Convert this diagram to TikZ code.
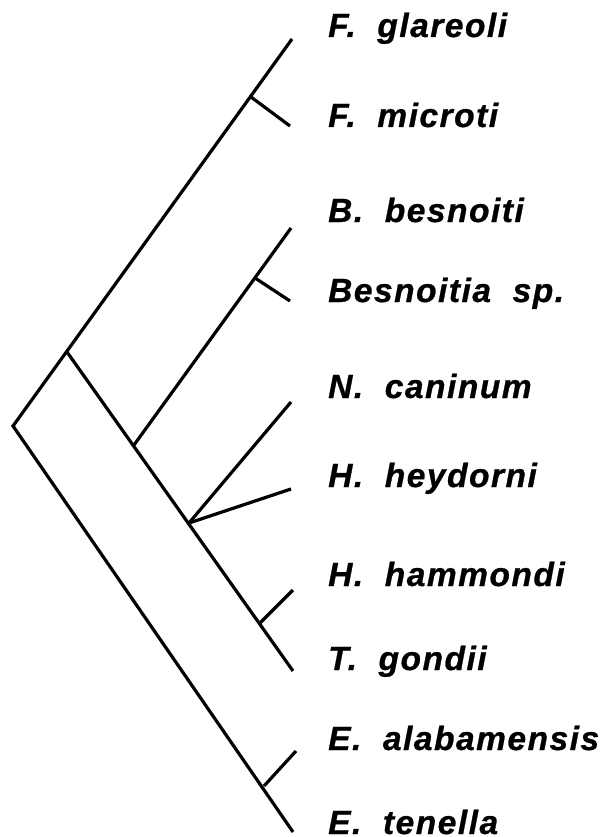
\documentclass[tikz,border=0pt]{standalone}
\usepackage{fontspec}
\setmainfont{Liberation Sans}
\begin{document}
\begin{tikzpicture}[x=1pt,y=-1pt,
  branch/.style={line width=3.2pt,line join=miter,line cap=butt},
  taxon/.style={anchor=base west,inner sep=0pt,font=\fontsize{33.5}{36}\selectfont\bfseries\itshape\addfontfeature{LetterSpace=4.5,FakeBold=0.8}}]
\useasboundingbox (0,0) rectangle (608,837);
\clip (0,0) rectangle (608,837);
% internal nodes
\coordinate (R) at (13,426);
\coordinate (A) at (67,352);
\coordinate (Fn) at (251,97);
\coordinate (Bj) at (134,445);
\coordinate (Bn) at (255,278);
\coordinate (NH) at (189,523);
\coordinate (HT) at (260,623);
\coordinate (En) at (264,786);
% leaves
\coordinate (l1) at (292,39);
\coordinate (l2) at (290,126);
\coordinate (l3) at (291,228);
\coordinate (l4) at (290,301);
\coordinate (l5) at (291,402);
\coordinate (l6) at (291,489);
\coordinate (l7) at (293,590);
\coordinate (l8) at (293,671);
\coordinate (l9) at (296,751);
\coordinate (l10) at (293,832);
% branches
\draw[branch] (l1) -- (R) -- (l10);
\draw[branch] (Fn) -- (l2);
\draw[branch] (A) -- (l8);
\draw[branch] (Bj) -- (l3);
\draw[branch] (Bn) -- (l4);
\draw[branch] (NH) -- (l5);
\draw[branch] (NH) -- (l6);
\draw[branch] (HT) -- (l7);
\draw[branch] (En) -- (l9);
% labels
\node[taxon] (t1) at (328,37) {F.\ \ glareoli};
\node[taxon] (t2) at (328,127) {F.\ \ microti};
\node[taxon] (t3) at (328,222) {B.\ \ besnoiti};
\node[taxon] (t4) at (328,302) {Besnoitia\ \ sp.};
\node[taxon] (t5) at (328,398) {N.\ \ caninum};
\node[taxon] (t6) at (328,487) {H.\ \ heydorni};
\node[taxon] (t7) at (328,586) {H.\ \ hammondi};
\node[taxon] (t8) at (328,670) {T.\ \ gondii};
\node[taxon] (t9) at (328,750) {E.\ \ alabamensis};
\node[taxon] (t10) at (328,834) {E.\ \ tenella};
\end{tikzpicture}
\end{document}
